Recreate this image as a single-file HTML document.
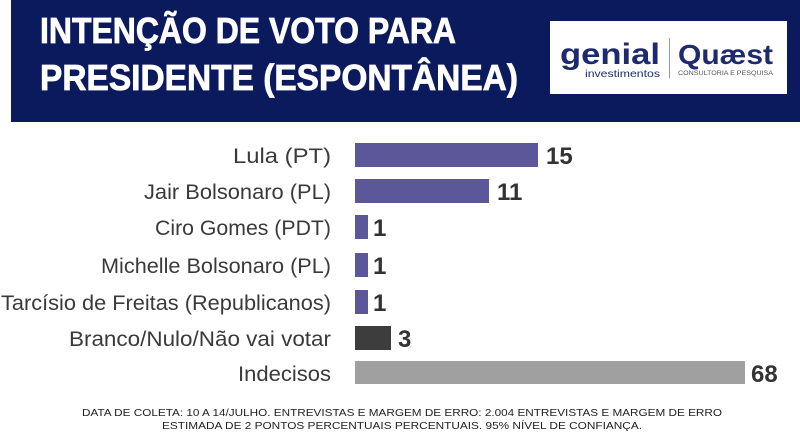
<!DOCTYPE html>
<html><head><meta charset="utf-8"><style>
html,body{margin:0;padding:0;background:#fff;}
body{width:800px;height:435px;overflow:hidden;}
</style></head><body>
<svg width="800" height="435" xmlns="http://www.w3.org/2000/svg" font-family="Liberation Sans, sans-serif">
<rect x="11" y="0" width="789" height="122" fill="#0b1a5c"/>
<text x="40" y="43" fill="#fff" font-weight="bold" font-size="36" textLength="416" lengthAdjust="spacingAndGlyphs" stroke="#fff" stroke-width="0.8">INTENÇÃO DE VOTO PARA</text>
<text x="40" y="90" fill="#fff" font-weight="bold" font-size="36" textLength="478" lengthAdjust="spacingAndGlyphs" stroke="#fff" stroke-width="0.8">PRESIDENTE (ESPONTÂNEA)</text>
<rect x="550" y="21" width="237" height="73" fill="#fff"/>
<text x="560" y="64" fill="#1d2a6e" font-size="30" font-weight="bold" textLength="100" lengthAdjust="spacingAndGlyphs">genial</text>
<text x="585" y="77" fill="#1d2a6e" font-size="10" textLength="75" lengthAdjust="spacingAndGlyphs">investimentos</text>
<rect x="669" y="38" width="1" height="40" fill="#999"/>
<text x="678" y="64" fill="#1d2a6e" font-size="28" font-weight="bold" textLength="95" lengthAdjust="spacingAndGlyphs">Quæst</text>
<text x="678" y="75" fill="#555" font-size="6" textLength="95" lengthAdjust="spacingAndGlyphs">CONSULTORIA E PESQUISA</text>
<g font-size="21" fill="#3a3a3a" text-anchor="end" lengthAdjust="spacingAndGlyphs">
<text x="331" y="163" textLength="98" lengthAdjust="spacingAndGlyphs">Lula (PT)</text>
<text x="331" y="199" textLength="187" lengthAdjust="spacingAndGlyphs">Jair Bolsonaro (PL)</text>
<text x="331" y="235" textLength="176" lengthAdjust="spacingAndGlyphs">Ciro Gomes (PDT)</text>
<text x="331" y="273" textLength="230" lengthAdjust="spacingAndGlyphs">Michelle Bolsonaro (PL)</text>
<text x="331" y="310" textLength="330" lengthAdjust="spacingAndGlyphs">Tarcísio de Freitas (Republicanos)</text>
<text x="331" y="346" textLength="262" lengthAdjust="spacingAndGlyphs">Branco/Nulo/Não vai votar</text>
<text x="331" y="381" textLength="93" lengthAdjust="spacingAndGlyphs">Indecisos</text>
</g>
<g fill="#5c5799">
<rect x="355" y="143" width="183" height="24"/>
<rect x="355" y="179" width="134" height="24"/>
<rect x="355" y="215" width="13" height="24"/>
<rect x="355" y="253" width="13" height="24"/>
<rect x="355" y="290" width="13" height="24"/>
</g>
<rect x="355" y="326" width="36" height="24" fill="#3d3d3d"/>
<rect x="355" y="361" width="390" height="23" fill="#a0a0a0"/>
<g font-size="24" font-weight="bold" fill="#333">
<text x="546" y="164">15</text>
<text x="497" y="200">11</text>
<text x="373" y="236">1</text>
<text x="373" y="274">1</text>
<text x="373" y="311">1</text>
<text x="398" y="347">3</text>
<text x="751" y="382">68</text>
</g>
<g font-size="10.5" fill="#222" text-anchor="middle">
<text x="402" y="416" textLength="640" lengthAdjust="spacingAndGlyphs">DATA DE COLETA: 10 A 14/JULHO. ENTREVISTAS E MARGEM DE ERRO: 2.004 ENTREVISTAS E MARGEM DE ERRO</text>
<text x="402" y="429" textLength="480" lengthAdjust="spacingAndGlyphs">ESTIMADA DE 2 PONTOS PERCENTUAIS PERCENTUAIS. 95% NÍVEL DE CONFIANÇA.</text>
</g>
</svg>
</body></html>
